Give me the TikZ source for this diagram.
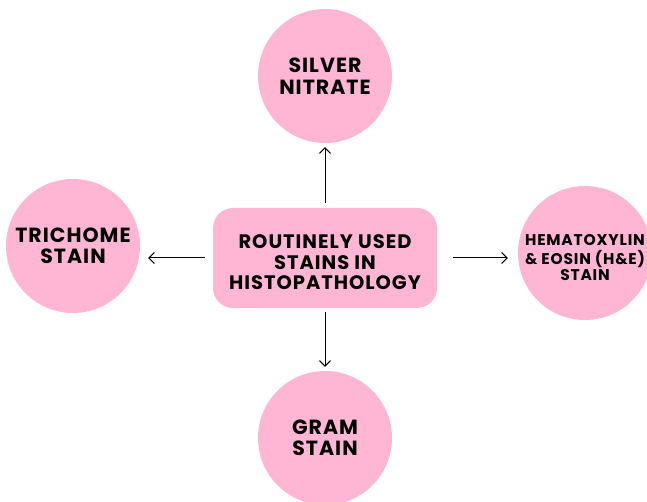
\documentclass[tikz,border=0pt]{standalone}
\usepackage{fontspec}
\setmainfont{Poppins}
\newfontfamily\pf{Poppins}[LetterSpace=5]
\usetikzlibrary{arrows.meta}
\definecolor{pinkfill}{RGB}{255,182,213}
\newcommand\lowtxt[2]{\raisebox{-#1}[\height][\depth]{\begin{tabular}{@{}c@{}}#2\end{tabular}}}
\tikzset{
  bubble/.style={circle, fill=pinkfill, minimum size=134pt, inner sep=0pt, align=center, text=black},
  hubbox/.style={rectangle, rounded corners=20pt, fill=pinkfill, minimum width=224pt, minimum height=100pt, inner sep=0pt, align=center, text=black},
  bigtxt/.style={font=\pf\bfseries\fontsize{20.5}{21.5}\selectfont},
  hubtxt/.style={font=\pf\bfseries\fontsize{19.5}{20.5}\selectfont},
  smalltxt/.style={font=\pf\bfseries\fontsize{15.5}{15.5}\selectfont},
  arr/.style={draw=black, line width=1pt, -{Straight Barb[length=5.5pt,width=11pt]}}
}
\begin{document}
\begin{tikzpicture}[x=1pt,y=-1pt]
\useasboundingbox (0,0) rectangle (647,502);
\node[hubbox, hubtxt] (hub) at (325,258) {\lowtxt{7pt}{ROUTINELY USED\\STAINS IN\\HISTOPATHOLOGY}};
\node[bubble, bigtxt] (top) at (325,76) {SILVER\\NITRATE};
\node[bubble, bigtxt] (bot) at (325,438) {GRAM\\STAIN};
\node[bubble, bigtxt] (lft) at (73,246) {TRICHOME\\STAIN};
\node[bubble, smalltxt] (rgt) at (585,253) {\lowtxt{7pt}{HEMATOXYLIN\\\& EOSIN (H\&E)\\STAIN}};
\draw[arr, shorten <=5pt, shorten >=4pt] (hub.north) -- (top.south);
\draw[arr, shorten <=4pt, shorten >=4pt] (hub.south) -- (bot.north);
\draw[arr, shorten <=8pt, shorten >=8pt] (hub.west) -- (hub.west -| lft.east);
\draw[arr, shorten <=16pt, shorten >=10pt] (hub.east) -- (hub.east -| rgt.west);
\end{tikzpicture}
\end{document}
